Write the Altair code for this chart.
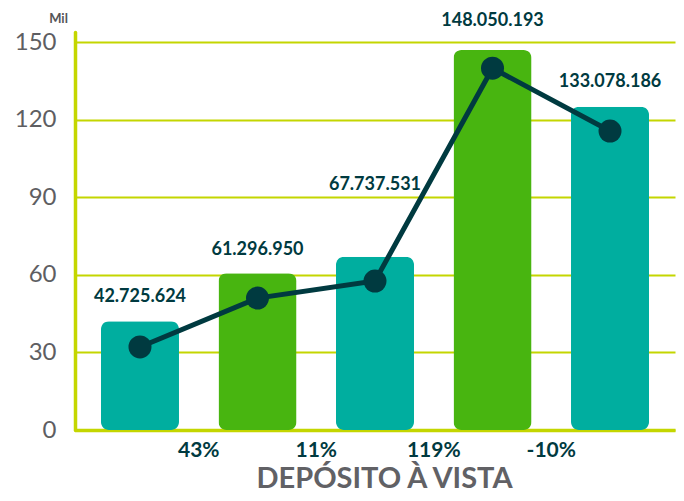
import altair as alt
import pandas as pd

# ---- data (values in "Mil" units) ----
categories = ["1", "2", "3", "4", "5"]
bar_values = [42.1, 60.6, 67.0, 146.9, 125.0]
line_values = [32.1, 51.0, 57.6, 139.9, 115.6]
value_labels = ["42.725.624", "61.296.950", "67.737.531", "148.050.193", "133.078.186"]
label_levels = [49.5, 67.6, 92.8, 156.2, 132.6]
growth_cats = ["1", "2", "3", "4"]
growth_labels = ["43%", "11%", "119%", "-10%"]
bar_colors = ["#00ae9f", "#48b510", "#00ae9f", "#48b510", "#00ae9f"]
y_ticks = [0, 30, 60, 90, 120, 150]

FONT = "Lato"
DARK = "#003a40"
LIME = "#c4d600"
GREY = "#5e5e62"

bars_df = pd.DataFrame({"cat": categories, "valor": bar_values, "cor": bar_colors})
line_df = pd.DataFrame({"cat": categories, "linha": line_values})
lab_df = pd.DataFrame({"cat": categories, "nivel": label_levels, "txt": value_labels})
grow_df = pd.DataFrame({"cat": growth_cats, "txt": growth_labels})

x_enc = alt.X(
    "cat:N",
    sort=categories,
    scale=alt.Scale(paddingInner=0.336, paddingOuter=0.221),
    axis=alt.Axis(
        title="DEPÓSITO À VISTA",
        labels=False,
        ticks=False,
        grid=False,
        domainColor=LIME,
        domainWidth=3.5,
        titleFont=FONT,
        titleFontSize=29,
        titleFontWeight="bold",
        titleColor="#616165",
        titleX=309,
        titleY=57,
        titleAlign="center",
        titleBaseline="alphabetic",
    ),
)

y_scale = alt.Scale(domain=[0, 153.9], nice=False)

bars = alt.Chart(bars_df).mark_bar(cornerRadius=8).encode(
    x=x_enc,
    y=alt.Y(
        "valor:Q",
        scale=y_scale,
        axis=alt.Axis(
            values=y_ticks,
            title="Mil",
            titleAngle=0,
            titleX=-17,
            titleY=-10,
            titleAlign="center",
            titleBaseline="alphabetic",
            titleFont=FONT,
            titleFontSize=13,
            titleFontWeight="bold",
            titleColor="#555558",
            labelFont=FONT,
            labelFontSize=24,
            labelColor=GREY,
            labelPadding=19,
            ticks=False,
            grid=True,
            gridColor=LIME,
            gridWidth=2,
            domainColor=LIME,
            domainWidth=3.5,
            domainCap="round",
        ),
    ),
    color=alt.Color("cor:N", scale=None),
)

line = alt.Chart(line_df).mark_line(color=DARK, strokeWidth=5).encode(
    x=alt.X("cat:N", sort=categories),
    y=alt.Y("linha:Q", scale=y_scale),
)
points = alt.Chart(line_df).mark_circle(color=DARK, size=529, opacity=1).encode(
    x=alt.X("cat:N", sort=categories),
    y=alt.Y("linha:Q", scale=y_scale),
)

labels = alt.Chart(lab_df).mark_text(
    font=FONT, fontSize=18, fontWeight="bold", color=DARK, baseline="alphabetic", align="center"
).encode(
    x=alt.X("cat:N", sort=categories),
    y=alt.Y("nivel:Q", scale=y_scale),
    text="txt:N",
)

growth = alt.Chart(grow_df).mark_text(
    font=FONT, fontSize=21, fontWeight="bold", color=DARK, baseline="alphabetic", align="center",
    dx=58.75, dy=27,
).encode(
    x=alt.X("cat:N", sort=categories),
    y=alt.datum(0),
    text="txt:N",
)

chart = (
    alt.layer(bars, line, points, labels, growth)
    .properties(
        width=600,
        height=398,
        autosize=alt.AutoSizeParams(type="none"),
        padding={"left": 67, "top": 24, "right": 1, "bottom": 63},
    )
    .configure_view(stroke=None)
)

chart.save("out.html", embed_options={"renderer": "svg", "actions": False})
